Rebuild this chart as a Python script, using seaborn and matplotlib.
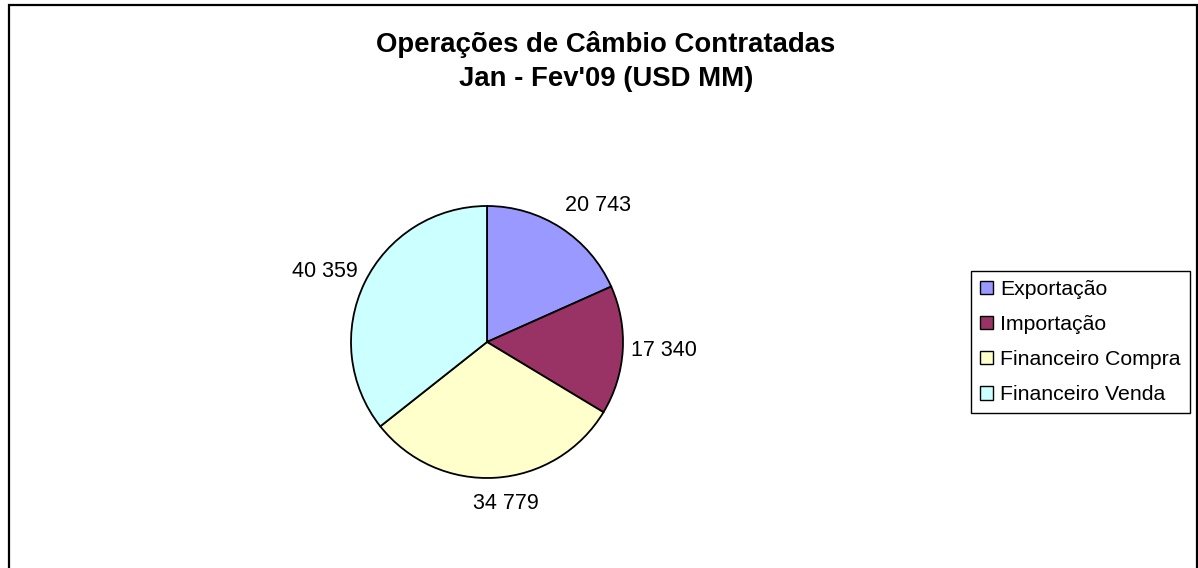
import numpy as np
import matplotlib
matplotlib.use("Agg")
import matplotlib.pyplot as plt
from matplotlib.patches import Rectangle
from matplotlib.transforms import ScaledTranslation
import seaborn as sns

# Foreign exchange contracts, Jan-Feb 2009 (USD million)
categories = ["Exportação", "Importação", "Financeiro Compra", "Financeiro Venda"]
values = [20743, 17340, 34779, 40359]
value_labels = ["20 743", "17 340", "34 779", "40 359"]
colors = ["#9999FF", "#993366", "#FFFFCC", "#CCFFFF"]

sns.set_theme(style="white")
plt.rcParams["font.family"] = ["Liberation Sans", "DejaVu Sans"]
plt.rcParams["text.color"] = "black"

W, H = 1198, 568
fig = plt.figure(figsize=(W / 100, H / 100), dpi=100)
fig.patch.set_facecolor("white")

# pie axes: centre (487, 342) px, radius 136 px
cx, cy, r = 487, 342, 136
ax = fig.add_axes([(cx - r) / W, (H - cy - r) / H, 2 * r / W, 2 * r / H])
palette = sns.color_palette(colors)
wedges, texts = ax.pie(
    values,
    labels=value_labels,
    colors=palette,
    startangle=90,
    counterclock=False,
    labeldistance=1.06,
    wedgeprops=dict(edgecolor="black", linewidth=1.3),
    textprops=dict(fontsize=15.5, color="black"),
)
ax.set_xlim(-1, 1)
ax.set_ylim(-1, 1)
ax.set_aspect("equal")
ax.axis("off")

# align each value label away from the pie, with a small nudge (in points)
label_nudge = [(0, 4), (0, 0), (7, -5), (0, -2)]
for t, (ndx, ndy) in zip(texts, label_nudge):
    x, y = t.get_position()
    t.set_ha("left" if x > 0.3 else "right" if x < -0.3 else "center")
    t.set_va("bottom" if y > 0.3 else "top" if y < -0.3 else "center")
    t.set_transform(ax.transData + ScaledTranslation(ndx / 72, ndy / 72, fig.dpi_scale_trans))

fig.text(606 / W, 1 - 31 / H, "Operações de Câmbio Contratadas\nJan - Fev'09 (USD MM)",
         ha="center", va="top", fontsize=19.8, fontweight="bold", color="black",
         linespacing=1.4, transform=fig.transFigure)

leg = fig.legend(wedges, categories,
                 loc="upper left", bbox_to_anchor=(971 / W, 1 - 271 / H),
                 fontsize=15.3, frameon=True, fancybox=False, shadow=False,
                 framealpha=1, edgecolor="black",
                 handlelength=0.6, handleheight=0.6, handletextpad=0.35,
                 labelspacing=0.76, borderpad=0.42, borderaxespad=0)
leg.get_frame().set_linewidth(1.0)
for txt in leg.get_texts():
    txt.set_color("black")
for h in leg.legend_handles:
    h.set_linewidth(1.0)

# outer chart border
fig.patches.append(Rectangle((8.5 / W, -0.05), (1197 - 8.5) / W, (1 - 5.5 / H) + 0.05,
                             transform=fig.transFigure, fill=False,
                             edgecolor="black", linewidth=1.6))

fig.savefig("out.png", dpi=100)
